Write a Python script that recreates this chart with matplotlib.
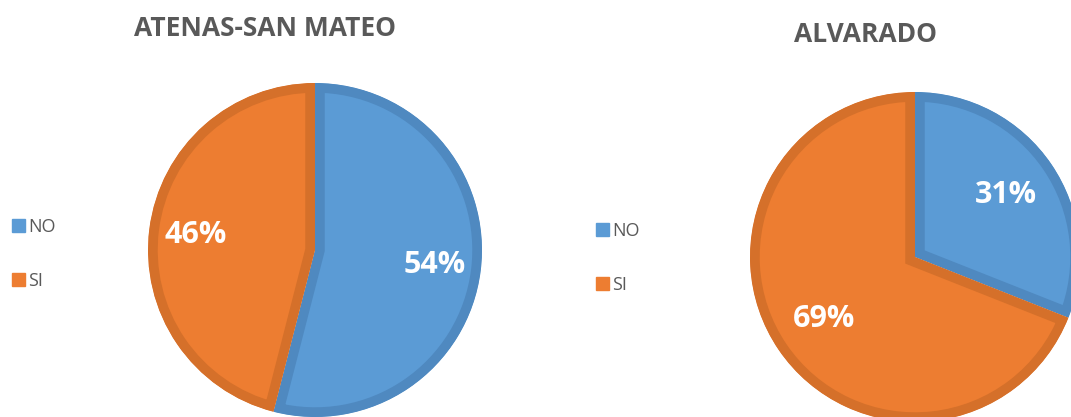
import matplotlib
matplotlib.use("Agg")
import matplotlib.pyplot as plt
import matplotlib.patches as mpatches

plt.rcParams["font.family"] = ["Open Sans", "DejaVu Sans"]

# data
categories = ["NO", "SI"]
atenas_values = [54, 46]
alvarado_values = [31, 69]
titles = ["ATENAS-SAN MATEO", "ALVARADO"]

fill_colors = ["#5B9BD5", "#ED7D31"]
edge_colors = ["#4F89C0", "#D5702A"]
text_gray = "#595959"

W, H = 1071, 417
fig = plt.figure(figsize=(W / 100, H / 100), dpi=100)


def px_axes(cx, cy, r):
    # axes box (in figure fractions) for a pie of radius r centred at pixel (cx, cy)
    return fig.add_axes([(cx - r) / W, (H - cy - r) / H, 2 * r / W, 2 * r / H])


def draw_pie(ax, values, pctdist):
    wedges, _, autotexts = ax.pie(
        values, colors=fill_colors, startangle=90, counterclock=False,
        autopct="%.0f%%", pctdistance=pctdist,
        textprops=dict(color="white", fontsize=22, fontweight="bold"),
    )
    for w, ec in zip(wedges, edge_colors):
        w.set_edgecolor(ec)
        w.set_linewidth(14)
        w.set_clip_path(w)
        w.set_clip_on(True)
    ax.set_xlim(-1, 1)
    ax.set_ylim(-1, 1)
    ax.set_aspect("equal")
    ax.axis("off")
    return wedges


ax1 = px_axes(315, 250, 167)
draw_pie(ax1, atenas_values, 0.72)
ax2 = px_axes(915, 257, 165)
draw_pie(ax2, alvarado_values, 0.67)

fig.text(265 / W, 1 - 29 / H, titles[0], ha="center", va="center",
         fontsize=19, fontweight="bold", color=text_gray)
fig.text(865 / W, 1 - 35 / H, titles[1], ha="center", va="center",
         fontsize=19, fontweight="bold", color=text_gray)

handles = [mpatches.Patch(facecolor=c, edgecolor=c) for c in fill_colors]
for x0, y0 in [(12, 254), (596, 258)]:
    fig.legend(handles, categories, loc="center left",
               bbox_to_anchor=(x0 / W, 1 - y0 / H), frameon=False,
               fontsize=13, labelcolor=text_gray, handlelength=0.7,
               handleheight=0.7, handletextpad=0.2, labelspacing=2.0,
               borderpad=0, borderaxespad=0)

fig.savefig("out.png", dpi=100, facecolor="white")
